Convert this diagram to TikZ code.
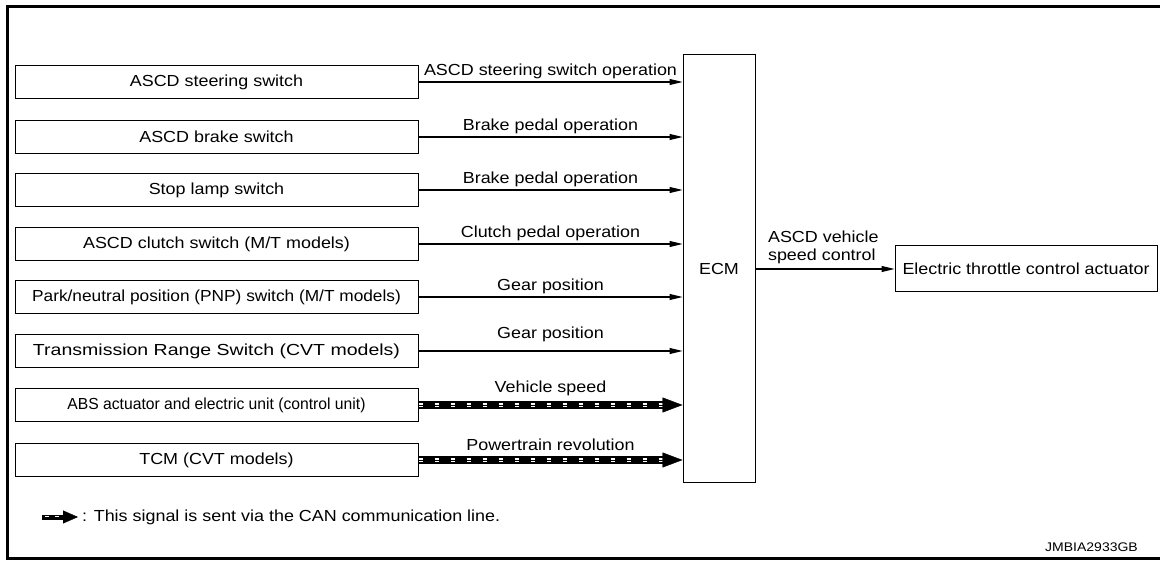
\documentclass[tikz,border=0pt]{standalone}
\usepackage{fontspec}
\setmainfont[FakeStretch=1.12]{Liberation Sans}
\newfontfamily\narrowfont[FakeStretch=0.98]{Liberation Sans}
\newfontfamily\widefont[FakeStretch=1.22]{Liberation Sans}
\newfontfamily\pnpfont[FakeStretch=1.08]{Liberation Sans}
\usetikzlibrary{arrows.meta}
\newcommand{\mainsize}{\fontsize{16}{18}\selectfont}
\begin{document}
\begin{tikzpicture}[x=1pt,y=-1pt,
  srcbox/.style={draw, line width=1pt, minimum width=403pt, minimum height=33pt, inner sep=0pt, font=\mainsize},
  sig/.style={draw, line width=1.1pt, -{Triangle[length=13pt,width=6pt]}},
  siglab/.style={midway, above=3pt, inner sep=0pt, font=\mainsize},
  canbody/.style={draw, line width=8pt, shorten >=18pt},
  candash/.style={draw=white, line width=4pt, dash pattern=on 4.5pt off 11.5pt, shorten >=18pt},
  canhead/.style={draw, line width=0.4pt, -{Triangle[length=20pt,width=15pt]}},
  frame/.style={line width=3pt}]
\useasboundingbox (0,0) rectangle (1160,561);
% outer frame
\draw[frame] (1160,6.5) -- (7.5,6.5) -- (7.5,558.5) -- (1160,558.5);

% source boxes
\node[srcbox] (s1) at (216.5,82) {ASCD steering switch};
\node[srcbox] (s2) at (216.5,137) {ASCD brake switch};
\node[srcbox] (s3) at (216.5,190) {Stop lamp switch};
\node[srcbox] (s4) at (216.5,244) {ASCD clutch switch (M/T models)};
\node[srcbox, font=\pnpfont\mainsize] (s5) at (216.5,297) {Park/neutral position (PNP) switch (M/T models)};
\node[srcbox, font=\widefont\mainsize] (s6) at (216.5,351) {Transmission Range Switch (CVT models)};
\node[srcbox, font=\narrowfont\mainsize] (s7) at (216.5,405) {ABS actuator and electric unit (control unit)};
\node[srcbox] (s8) at (216.5,460) {TCM (CVT models)};

% ECM and actuator
\node[draw, line width=1pt, minimum width=72pt, minimum height=427pt, inner sep=0pt, font=\mainsize] (ecm) at (719,268.5) {ECM};
\node[draw, line width=1pt, minimum width=262pt, minimum height=46pt, inner sep=0pt, font=\mainsize] (act) at (1026,269) {Electric throttle control actuator};

% plain signals
\draw[sig] (s1.east) -- (ecm.west |- s1.east) node[siglab] {ASCD steering switch operation};
\draw[sig] (s2.east) -- (ecm.west |- s2.east) node[siglab] {Brake pedal operation};
\draw[sig] (s3.east) -- (ecm.west |- s3.east) node[siglab] {Brake pedal operation};
\draw[sig] (s4.east) -- (ecm.west |- s4.east) node[siglab] {Clutch pedal operation};
\draw[sig] (s5.east) -- (ecm.west |- s5.east) node[siglab] {Gear position};
\draw[sig] (s6.east) -- (ecm.west |- s6.east) node[siglab, above=6pt] {Gear position};

% CAN signals
\draw[canbody] (s7.east) -- (ecm.west |- s7.east);
\draw[candash] (s7.east) -- (ecm.west |- s7.east);
\draw[canhead] (s7.east) -- (ecm.west |- s7.east) node[siglab, above=6pt] {Vehicle speed};
\draw[canbody] (s8.east) -- (ecm.west |- s8.east);
\draw[candash] (s8.east) -- (ecm.west |- s8.east);
\draw[canhead] (s8.east) -- (ecm.west |- s8.east) node[siglab, above=6pt] {Powertrain revolution};

% output
\draw[sig] (ecm.east |- act.west) -- (act.west)
  node[pos=0, anchor=south west, xshift=12pt, yshift=5pt, inner sep=0pt, align=left, font=\mainsize] {ASCD vehicle\\speed control};

% legend
\coordinate (lg1) at (42,517);
\coordinate (lg2) at (78,517);
\draw[line width=5pt, shorten >=14pt] (lg1) -- (lg2);
\draw[white, line width=2pt, dash pattern=on 4pt off 6pt, dash phase=-3pt, shorten >=14pt] (lg1) -- (lg2);
\draw[line width=0.4pt, -{Triangle[length=15pt,width=13pt]}] (lg1) -- (lg2);
\node[anchor=west, inner sep=0pt, font=\mainsize] (legtext) at (82,517) {: This signal is sent via the CAN communication line.};

\node[anchor=east, inner sep=0pt, font=\fontsize{12.5}{14}\selectfont] (code) at (1138,547) {JMBIA2933GB};
\end{tikzpicture}
\end{document}
